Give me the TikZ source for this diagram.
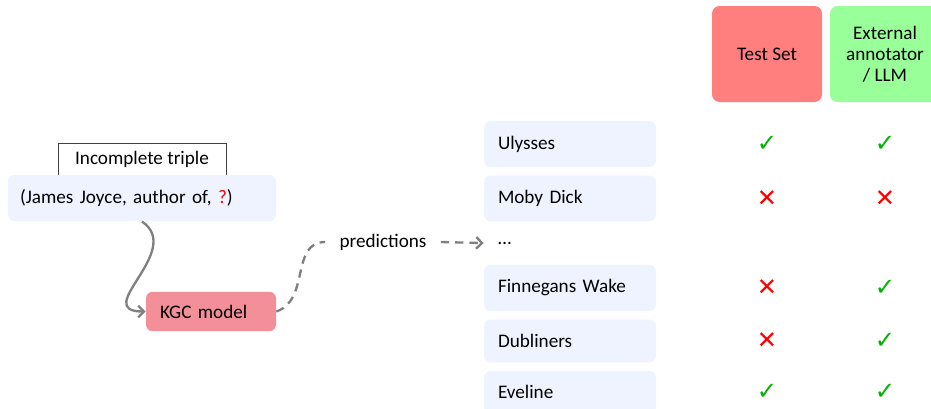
\documentclass[tikz,border=0pt]{standalone}
\usepackage{fontspec}
\setmainfont{Carlito}
\newfontfamily\symbolfont{DejaVu Sans}
\usetikzlibrary{positioning, arrows.meta}
\definecolor{mblue}{HTML}{EFF2FF}
\definecolor{mpink}{HTML}{F38F99}
\definecolor{mred}{HTML}{FF7F7F}
\definecolor{mgreen}{HTML}{99FF99}
\definecolor{okgreen}{HTML}{00B300}
\definecolor{badred}{HTML}{FF0000}
\newcommand{\good}{\textcolor{okgreen}{\symbolfont\fontsize{14.5}{16}\selectfont ✓}}
\newcommand{\bad}{\textcolor{badred}{\symbolfont\fontsize{14.5}{16}\selectfont ✕}}
\tikzstyle{item} = [rectangle, rounded corners=4pt, fill=mblue, text width=86.4pt, inner xsep=8.4pt, inner ysep=8.8pt, align=left]
\tikzstyle{plain} = [item, fill=none, inner ysep=7.2pt]
\tikzstyle{header} = [rectangle, rounded corners=4.5pt, minimum width=66pt, minimum height=57.6pt, align=center, font=\fontsize{11.5}{12.6}\selectfont]
\tikzstyle{link} = [line width=1.4pt, gray, -{Straight Barb[length=3.5pt, width=7pt]}]
\tikzstyle{dashlink} = [line width=1.4pt, gray, dash pattern=on 5pt off 3.6pt]

\begin{document}
\begin{tikzpicture}[x=0.6pt, y=-0.6pt, node distance=4.8pt, font=\fontsize{11.5}{14}\selectfont]
  \clip (0,0) rectangle (931,408);
  % query side
  \node (tag) [draw=black!75, fill=white, minimum width=100.8pt, inner ysep=5pt, anchor=north] at (142,143) {Incomplete triple};
  \node (joyce) [item, text width=146.4pt, inner xsep=7.2pt] at (142,198) {(James Joyce, author of, {\color{badred}?})};
  \node (kgc) [item, fill=mpink, text width=61.2pt, inner ysep=7.8pt] at (211,311.5) {KGC model};
  \node (pred) [inner xsep=8.4pt] at (383,242) {predictions};
  \draw [link] (joyce.south) .. controls +(43,29) and +(-56,0) .. (kgc.west);
  \draw [dashlink] (kgc.east) .. controls +(34,-11.5) and +(-35,0) .. (pred.west);
  % ranked answers
  \node (ulysses) [item] at (570,144) {Ulysses};
  \node (moby) [item, below=of ulysses] {Moby Dick};
  \node (dots) [plain, below=of moby] {\dots};
  \node (finnegans) [item, below=of dots] {Finnegans Wake};
  \node (dubliners) [item, below=of finnegans] {Dubliners};
  \node (eveline) [item, below=of dubliners] {Eveline};
  \draw [dashlink, -{Straight Barb[length=3.5pt, width=7pt]}] (pred.east) -- (dots.west);
  % judges
  \node (testset) [header, fill=mred] at (767,54) {Test Set};
  \node (annotator) [header, fill=mgreen] at (885,54) {External\\annotator\\/ LLM};
  \foreach \row/\a/\b in {ulysses/\good/\good, moby/\bad/\bad, finnegans/\bad/\good, dubliners/\bad/\good, eveline/\good/\good} {
    \node (\row-ts) at (testset |- \row) {\a};
    \node (\row-llm) at (annotator |- \row) {\b};
  }
\end{tikzpicture}
\end{document}
